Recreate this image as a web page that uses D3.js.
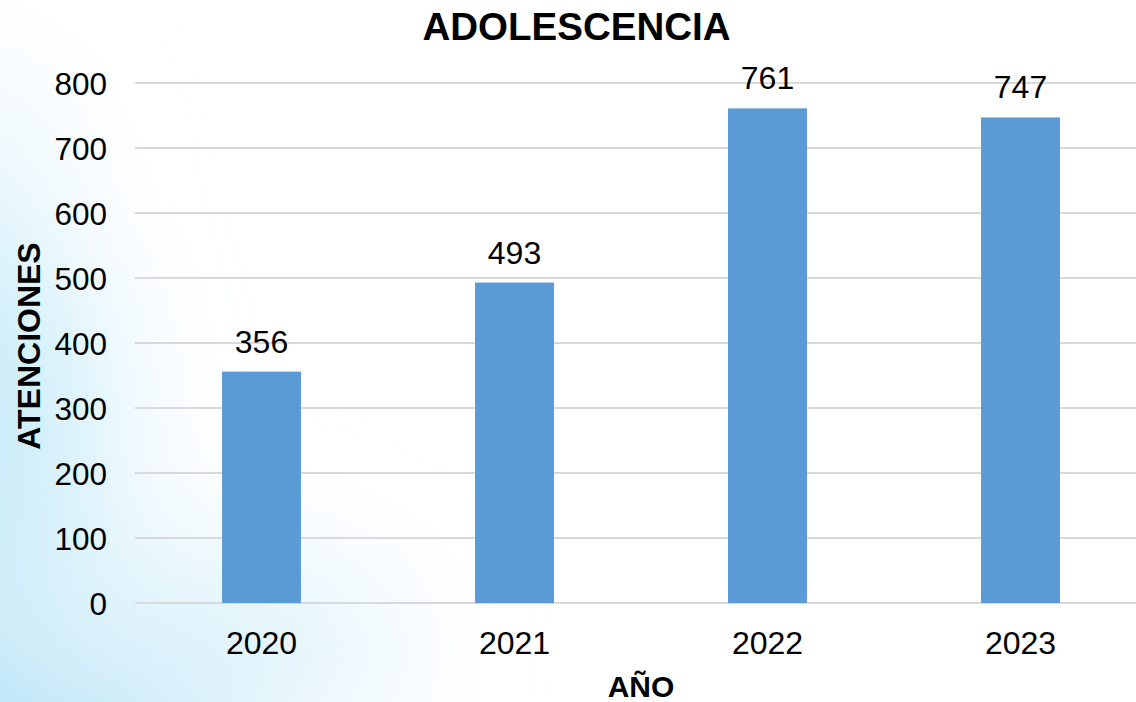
<!DOCTYPE html>
<html>
<head>
<meta charset="utf-8">
<script src="https://cdn.jsdelivr.net/npm/d3@7"></script>
<style>
  html, body { margin: 0; padding: 0; background: #fff; }
  svg { display: block; }
  text { font-family: "Liberation Sans", Arial, sans-serif; fill: #000; }
</style>
</head>
<body>
<svg id="chart" width="1136" height="702"></svg>
<script>
const categories = ["2020", "2021", "2022", "2023"];
const values = [356, 493, 761, 747];
const yTicks = [0, 100, 200, 300, 400, 500, 600, 700, 800];
const title = "ADOLESCENCIA";
const yTitle = "ATENCIONES";
const xTitle = "AÑO";

const W = 1136, H = 702;
const plot = { left: 135, right: 1147, top: 83, bottom: 603 };

const svg = d3.select("#chart");
const defs = svg.append("defs");

// background soft blue wash on the left
const f = defs.append("filter").attr("id", "blur").attr("x", "-50%").attr("y", "-50%").attr("width", "200%").attr("height", "200%");
f.append("feGaussianBlur").attr("stdDeviation", 70);
const bg = svg.append("g");
bg.append("rect").attr("width", W).attr("height", H).attr("fill", "#ffffff");
const wash = bg.append("g").attr("filter", "url(#blur)");
wash.append("ellipse").attr("cx", -40).attr("cy", 730).attr("rx", 250).attr("ry", 200).attr("fill", "#a9def4");
wash.append("ellipse").attr("cx", -60).attr("cy", 430).attr("rx", 160).attr("ry", 230).attr("fill", "#c8ecf9");
wash.append("ellipse").attr("cx", 180).attr("cy", 650).attr("rx", 220).attr("ry", 90).attr("fill", "#dcf2fb");
wash.append("ellipse").attr("cx", -40).attr("cy", 170).attr("rx", 90).attr("ry", 90).attr("fill", "#e4f5fc");

const x = d3.scaleBand()
  .domain(categories)
  .range([plot.left, plot.right])
  .paddingInner(0.688)
  .paddingOuter(0.344);

const y = d3.scaleLinear().domain([0, 800]).range([plot.bottom, plot.top]);

// gridlines
svg.append("g")
  .selectAll("line")
  .data(yTicks)
  .join("line")
  .attr("x1", plot.left)
  .attr("x2", W)
  .attr("y1", d => y(d))
  .attr("y2", d => y(d))
  .attr("stroke", "#d9d9d9")
  .attr("stroke-width", 2);

// y axis labels
const yAxis = d3.axisLeft(y).tickValues(yTicks).tickSize(0).tickPadding(0);
const ya = svg.append("g").attr("transform", "translate(107,0)").call(yAxis);
ya.select(".domain").remove();
ya.selectAll("text")
  .attr("font-size", 31.5)
  .attr("font-family", "Liberation Sans, Arial, sans-serif")
  .attr("fill", "#000")
  .attr("dy", "0.35em");

// x axis labels
const xAxis = d3.axisBottom(x).tickSize(0).tickPadding(0);
const xa = svg.append("g").attr("transform", `translate(0,${plot.bottom})`).call(xAxis);
xa.select(".domain").remove();
xa.selectAll("text")
  .attr("font-size", 32)
  .attr("font-family", "Liberation Sans, Arial, sans-serif")
  .attr("fill", "#000")
  .attr("dy", null)
  .attr("y", 51);

// bars
svg.append("g")
  .selectAll("rect")
  .data(values)
  .join("rect")
  .attr("x", (d, i) => x(categories[i]))
  .attr("width", x.bandwidth())
  .attr("y", d => y(d))
  .attr("height", d => y(0) - y(d))
  .attr("fill", "#5b9bd5");

// data labels
svg.append("g")
  .selectAll("text")
  .data(values)
  .join("text")
  .attr("x", (d, i) => x(categories[i]) + x.bandwidth() / 2)
  .attr("y", d => y(d) - 19)
  .attr("text-anchor", "middle")
  .attr("font-size", 32)
  .text(d => d);

// title
svg.append("text")
  .attr("x", 576.5)
  .attr("y", 40)
  .attr("text-anchor", "middle")
  .attr("font-size", 38.5)
  .attr("font-weight", "bold")
  .text(title);

// y title
svg.append("text")
  .attr("transform", "translate(40,346) rotate(-90)")
  .attr("text-anchor", "middle")
  .attr("font-size", 32)
  .attr("font-weight", "bold")
  .text(yTitle);

// x title
svg.append("text")
  .attr("x", 641)
  .attr("y", 697)
  .attr("text-anchor", "middle")
  .attr("font-size", 30)
  .attr("font-weight", "bold")
  .text(xTitle);
</script>
</body>
</html>
